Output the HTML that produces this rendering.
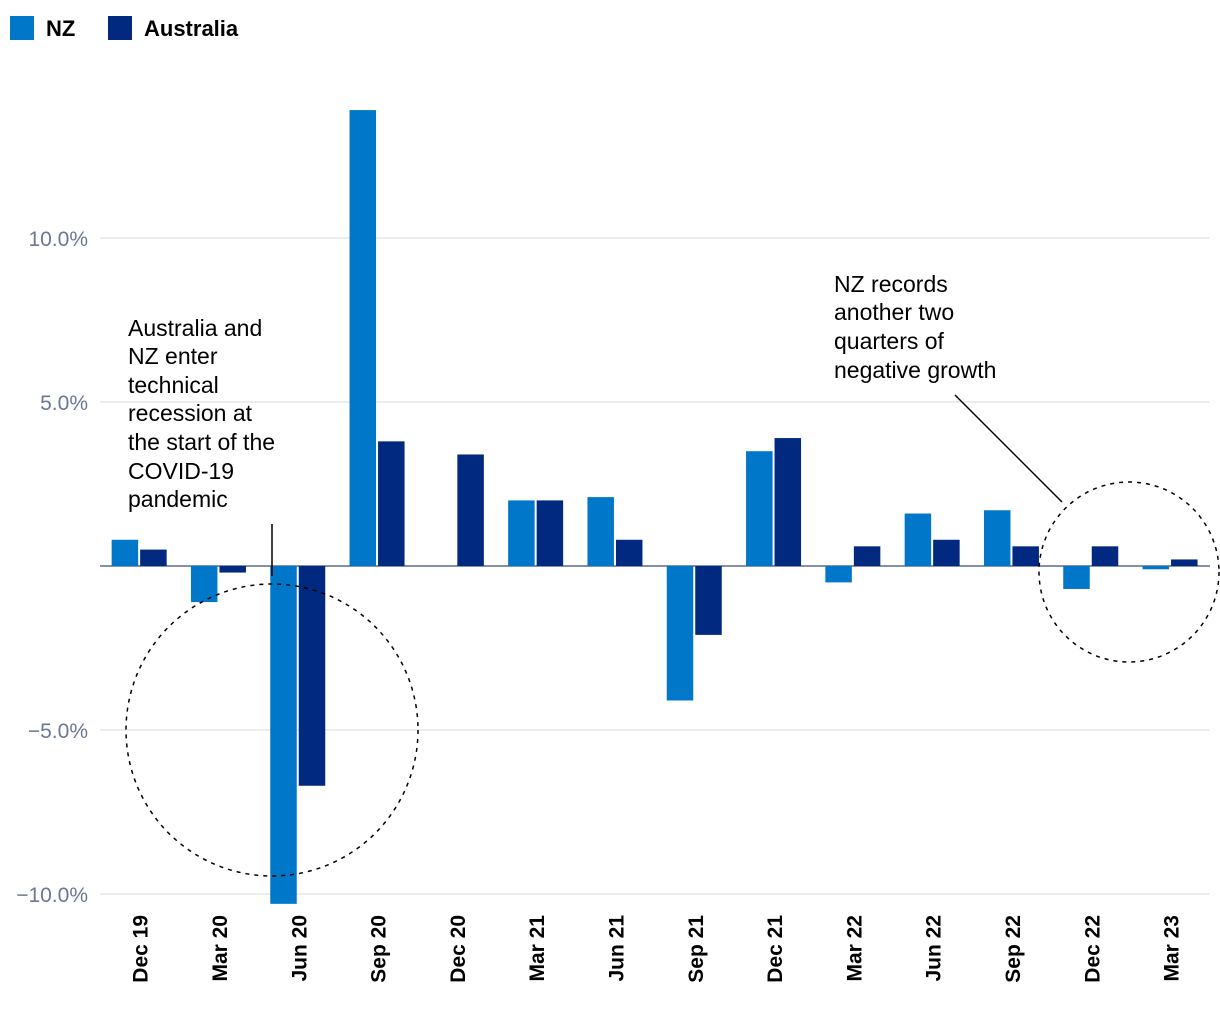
<!DOCTYPE html>
<html><head><meta charset="utf-8"><style>
body{margin:0;background:#fff;width:1220px;height:1020px;overflow:hidden;font-family:"Liberation Sans",sans-serif}
</style></head><body>
<svg id="chart" width="1220" height="1020" xmlns="http://www.w3.org/2000/svg">
<g>
<g><rect x="10" y="16" width="24" height="24" fill="#0077c8"/><text x="46" y="36" font-size="22" font-weight="bold" fill="#000">NZ</text></g>
<g><rect x="108" y="16" width="24" height="24" fill="#00297f"/><text x="144" y="36" font-size="22" font-weight="bold" fill="#000">Australia</text></g>
</g>
<g id="grid"></g><g id="bars"></g><g id="xlabels"></g>
<g fill="#000" font-size="23">
<text><tspan x="128" y="336">Australia and</tspan><tspan x="128" y="364">NZ enter</tspan><tspan x="128" y="393">technical</tspan><tspan x="128" y="421">recession at</tspan><tspan x="128" y="450">the start of the</tspan><tspan x="128" y="479">COVID-19</tspan><tspan x="128" y="507">pandemic</tspan></text>
<line x1="272" y1="524" x2="272" y2="576" stroke="#000" stroke-width="1.5"/>
<circle cx="272" cy="730" r="146" fill="none" stroke="#000" stroke-width="1.5" stroke-dasharray="4,5"/>
<text><tspan x="834" y="292">NZ records</tspan><tspan x="834" y="320">another two</tspan><tspan x="834" y="349">quarters of</tspan><tspan x="834" y="378">negative growth</tspan></text>
<line x1="955" y1="395" x2="1062" y2="502" stroke="#000" stroke-width="1.5"/>
<circle cx="1129" cy="572" r="90" fill="none" stroke="#000" stroke-width="1.5" stroke-dasharray="4,5"/>
</g>
</svg>
<script>
const categories=["Dec 19","Mar 20","Jun 20","Sep 20","Dec 20","Mar 21","Jun 21","Sep 21","Dec 21","Mar 22","Jun 22","Sep 22","Dec 22","Mar 23"];
const nzValues=[0.8,-1.1,-10.3,13.9,0,2.0,2.1,-4.1,3.5,-0.5,1.6,1.7,-0.7,-0.1];
const auValues=[0.5,-0.2,-6.7,3.8,3.4,2.0,0.8,-2.1,3.9,0.6,0.8,0.6,0.6,0.2];
const yTicks=[10,5,0,-5,-10];
const yTickLabels=["10.0%","5.0%","","−5.0%","−10.0%"];
const NS="http://www.w3.org/2000/svg";
const y=v=>566-v*32.8;
const step=79.3, x0=100;
const xc=i=>x0+step*(i+0.5);
function mk(t,a,p){const e=document.createElementNS(NS,t);for(const k in a)e.setAttribute(k,a[k]);p.appendChild(e);return e;}
const grid=document.getElementById('grid');
yTicks.forEach((t,i)=>{
 const ln=mk('line',{x1:100,x2:1210,y1:y(t),y2:y(t),stroke:t===0?'#5f6b85':'#d3d8e2','stroke-width':t===0?1.5:1},grid);
 
 
 if(yTickLabels[i]){const tx=mk('text',{x:88,y:y(t)+8,'text-anchor':'end','font-size':21,fill:'#6b7794'},grid);tx.textContent=yTickLabels[i];
 
 }
});
const bars=document.getElementById('bars'), xl=document.getElementById('xlabels');
categories.forEach((c,i)=>{
 [[nzValues[i],'#0077c8',-28,'bar-nz'],[auValues[i],'#00297f',0.5,'bar-australia']].forEach(([v,col,off,nm])=>{
  if(v===0)return;
  const r=mk('rect',{x:xc(i)+off,width:26.5,y:Math.min(y(v),y(0)),height:Math.abs(y(v)-y(0)),fill:col},bars);
  
  
 });
 const t=mk('text',{transform:`translate(${xc(i)+8},915) rotate(-90)`,'text-anchor':'end','font-size':21,'font-weight':'bold',fill:'#000'},xl);
 t.textContent=c;
 
 
});
</script>
</body></html>
